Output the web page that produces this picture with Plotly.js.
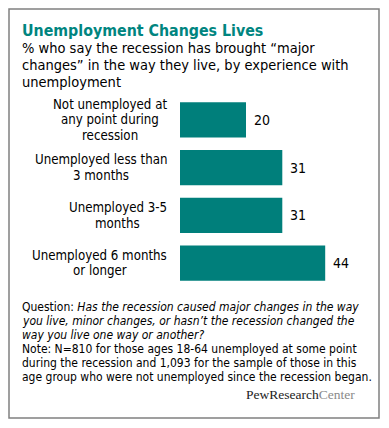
<!DOCTYPE html>
<html><head><meta charset="utf-8">
<script src="https://cdn.plot.ly/plotly-3.0.1.min.js"></script>
<style>html,body{margin:0;padding:0;background:#fff}#c{width:389px;height:428px}</style>
</head><body><div id="c"></div>
<script>
const categories = ["Not unemployed at<br>any point during<br>recession", "Unemployed less than<br>3 months", "Unemployed 3-5<br>months", "Unemployed 6 months<br>or longer"];
const values = [20, 31, 31, 44];
const titleText = "Unemployment Changes Lives";
const subtitleLines = ["% who say the recession has brought “major", "changes” in the way they live, by experience with", "unemployment"];
const noteLines = [
  "Question: <i>Has the recession caused major changes in the way</i>",
  "<i>you live, minor changes, or hasn’t the recession changed the</i>",
  "<i>way you live one way or another?</i>",
  "Note: N=810 for those ages 18-64 unemployed at some point",
  "during the recession and 1,093 for the sample of those in this",
  "age group who were not unemployed since the recession began."
];

const W = 389, H = 428;
const M = {l: 180, r: 11, t: 96, b: 141};
const PW = W - M.l - M.r, PH = H - M.t - M.b;
const px = x => (x - M.l) / PW;
const py = y => (H - M.b - y) / PH;
const FONT = "'DejaVu Sans Condensed', 'DejaVu Sans', sans-serif";
const TEAL = "#007f7b";
const CAT_SIZE = 13.2;

const cv = document.createElement('canvas').getContext('2d');
cv.font = CAT_SIZE + "px 'DejaVu Sans Condensed', 'DejaVu Sans', sans-serif";

const ann = [];
ann.push({xref:'paper', yref:'paper', x:px(20), y:py(30), xanchor:'left', yanchor:'middle', showarrow:false,
  text:'<b>'+titleText+'</b>', font:{family:FONT, size:15.8, color:'#00857f'}});
subtitleLines.forEach((t,i)=>ann.push({xref:'paper', yref:'paper', x:px(20), y:py(48.3+i*16.7), xanchor:'left', yanchor:'middle', showarrow:false,
  text:t, font:{family:FONT, size:14.5, color:'#000'}}));
noteLines.forEach((t,i)=>ann.push({xref:'paper', yref:'paper', x:px(20), y:py(306.7+i*14.1), xanchor:'left', yanchor:'middle', showarrow:false,
  text:t, font:{family:FONT, size:12, color:'#000'}}));
ann.push({xref:'paper', yref:'paper', x:px(357), y:py(394), xanchor:'right', yanchor:'middle', showarrow:false,
  text:'<span style="color:#222">PewResearch</span><span style="color:#8a8a8a">Center</span>', font:{family:"'Liberation Serif', 'DejaVu Serif', serif", size:13.5, color:'#222'}});
// category labels: lines centred within a block whose right edge sits next to the bars
const LH = 15.7;
categories.forEach((c,i)=>{
  const lines = c.split('<br>');
  const maxW = Math.max(...lines.map(l=>cv.measureText(l).width));
  const cx = 167 - maxW/2;
  lines.forEach((l,j)=>ann.push({xref:'paper', yref:'y', x:px(cx), y:i, xanchor:'center', yanchor:'middle', showarrow:false,
    yshift: -((j - (lines.length-1)/2) * LH),
    text:l, font:{family:FONT, size:CAT_SIZE, color:'#000'}}));
});
// value labels
values.forEach((v,i)=>ann.push({xref:'x', yref:'y', x:v, y:i, xanchor:'left', yanchor:'middle', xshift:6, showarrow:false,
  text:String(v), font:{family:FONT, size:14, color:'#000'}}));

const trace = {type:'bar', orientation:'h', x:values, y:categories.map((c,i)=>i),
  marker:{color:TEAL, line:{width:0}}, hoverinfo:'none'};

const layout = {
  width:W, height:H, margin:M, paper_bgcolor:'#fff', plot_bgcolor:'#fff', showlegend:false,
  bargap:0.266,
  xaxis:{range:[0,60], visible:false, fixedrange:true},
  yaxis:{range:[3.5,-0.5], visible:false, fixedrange:true},
  annotations:ann,
  shapes:[{type:'rect', xref:'paper', yref:'paper', x0:px(9), x1:px(379), y0:py(9), y1:py(418),
    line:{color:'#808080', width:1.5}, fillcolor:'rgba(0,0,0,0)'}]
};
Plotly.newPlot('c', [trace], layout, {staticPlot:true, displayModeBar:false});
</script></body></html>
